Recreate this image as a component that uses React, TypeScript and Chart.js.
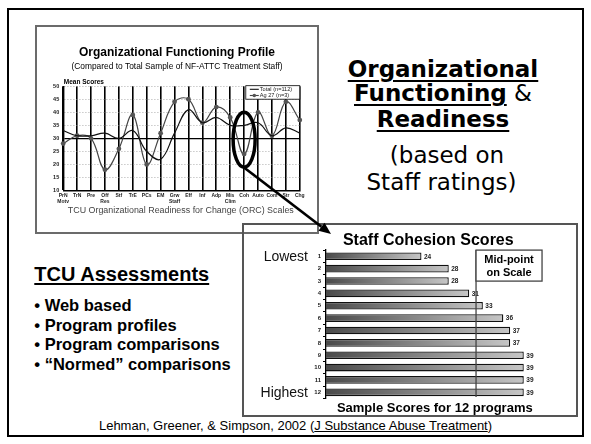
import React, { useEffect, useRef } from "react";
import { Chart, registerables } from "chart.js";

Chart.register(...registerables);

// ---------- Data: Organizational Functioning Profile ----------
const SCALE_LABELS: string[][] = [
  ["PrN", "Motv"], ["TrN"], ["Pre"], ["Off", "Res"], ["Stf"], ["TrE"], ["PCs"], ["EM"],
  ["Grw", "Staff"], ["Eff"], ["Inf"], ["Adp"], ["Mis", "Clim"], ["Coh"], ["Auto"], ["Com"], ["Str"], ["Chg"],
];
const TOTAL_LABEL = "Total (n=112)";
const TOTAL_SCORES = [33, 31, 31, 32, 30, 33, 25, 22, 32, 41, 36, 38, 35, 35, 36, 31, 34, 32];
const AG27_LABEL = "Ag 27 (n=3)";
const AG27_SCORES = [28, 31, 30, 18, 26, 39, 20, 32, 44, 45, 36, 42, 38, 24, 40, 31, 44, 37];
const PROFILE_MIN = 10;
const PROFILE_MAX = 50;
const PROFILE_STEP = 5;
const PROFILE_MIDPOINT = 30;
const HIGHLIGHT_SCALE = "Coh";

// ---------- Data: Staff Cohesion Scores ----------
const PROGRAM_LABELS = ["1", "2", "3", "4", "5", "6", "7", "8", "9", "10", "11", "12"];
const COHESION_SCORES = [24, 28, 28, 31, 33, 36, 37, 37, 39, 39, 39, 39];
const COHESION_MIN = 10;
const COHESION_MAX = 40;
const COHESION_MIDPOINT_LINE = 32;

const SANS = "'Liberation Sans', Arial, Helvetica, sans-serif";
const DEJAVU = "'DejaVu Sans', Verdana, sans-serif";

function zeroPad(scale: any) {
  scale.paddingLeft = 0;
  scale.paddingRight = 0;
  scale.paddingTop = 0;
  scale.paddingBottom = 0;
}

const profileDecor = {
  id: "profileDecor",
  afterDatasetsDraw(chart: any) {
    const { ctx, chartArea: a, scales } = chart;
    const x = scales.x;
    const y = scales.y;
    ctx.save();
    const idx = SCALE_LABELS.findIndex((l) => l[0] === HIGHLIGHT_SCALE);
    if (idx >= 0) {
      const cx = x.getPixelForValue(idx);
      const cy = y.getPixelForValue((TOTAL_SCORES[idx] + AG27_SCORES[idx]) / 2);
      ctx.beginPath();
      ctx.ellipse(cx, cy, 11, 27.5, 0, 0, Math.PI * 2);
      ctx.lineWidth = 3.5;
      ctx.strokeStyle = "#000";
      ctx.stroke();
    }
    const lw = 54, lh = 13.5;
    const lx = a.right - lw, ly = a.top - 0.5;
    ctx.fillStyle = "#fff";
    ctx.fillRect(lx, ly, lw, lh);
    ctx.lineWidth = 0.8;
    ctx.strokeStyle = "#000";
    ctx.strokeRect(lx, ly, lw, lh);
    const ds = chart.data.datasets;
    ctx.font = `5.6px ${SANS}`;
    ctx.textBaseline = "middle";
    ctx.textAlign = "left";
    ds.forEach((d: any, i: number) => {
      const ry = ly + 3.6 + i * 6.2;
      ctx.beginPath();
      ctx.moveTo(lx + 4, ry);
      ctx.lineTo(lx + 13, ry);
      ctx.strokeStyle = d.borderColor;
      ctx.lineWidth = 1.1;
      ctx.stroke();
      if (d.pointRadius > 0) {
        ctx.beginPath();
        ctx.arc(lx + 8.5, ry, 1.8, 0, Math.PI * 2);
        ctx.fillStyle = d.pointBackgroundColor;
        ctx.fill();
      }
      ctx.fillStyle = "#222";
      ctx.fillText(d.label, lx + 14, ry + 0.3);
    });
    ctx.restore();
  },
  afterDraw(chart: any) {
    const { ctx, chartArea: a } = chart;
    ctx.save();
    ctx.fillStyle = "#000";
    ctx.textAlign = "center";
    ctx.textBaseline = "alphabetic";
    ctx.font = `bold 12px ${SANS}`;
    ctx.fillText("Organizational Functioning Profile", chart.width / 2, 31);
    ctx.font = `8.4px ${SANS}`;
    ctx.fillText("(Compared to Total Sample of NF-ATTC Treatment Staff)", chart.width / 2, 43.8);
    ctx.textAlign = "left";
    ctx.font = `bold 6.5px ${SANS}`;
    ctx.fillText("Mean Scores", a.left + 0.6, a.top - 2.4);
    ctx.textAlign = "center";
    ctx.fillStyle = "#444";
    ctx.font = `8.9px ${SANS}`;
    ctx.fillText("TCU Organizational Readiness for Change (ORC) Scales", (a.left + a.right) / 2 - 0.7, 188.2);
    ctx.restore();
  },
};

const cohesionDecor = {
  id: "cohesionDecor",
  afterDatasetsDraw(chart: any) {
    const { ctx, chartArea: a, scales } = chart;
    const x = scales.x;
    const y = scales.y;
    ctx.save();
    ctx.font = `bold 6.5px ${SANS}`;
    ctx.fillStyle = "#222";
    ctx.textAlign = "left";
    ctx.textBaseline = "middle";
    COHESION_SCORES.forEach((v, i) => {
      ctx.fillText(String(v), x.getPixelForValue(v) + 2.5, y.getPixelForValue(i) + 0.5);
    });
    const mx = x.getPixelForValue(COHESION_MIDPOINT_LINE);
    ctx.strokeStyle = "#444";
    ctx.lineWidth = 1.3;
    ctx.beginPath();
    ctx.moveTo(mx, a.top);
    ctx.lineTo(mx, a.bottom - 1.5);
    ctx.stroke();
    ctx.fillStyle = "#fff";
    ctx.fillRect(mx, a.top, 66, 31);
    ctx.strokeRect(mx, a.top, 66, 31);
    ctx.fillStyle = "#000";
    ctx.font = `bold 11px ${SANS}`;
    ctx.textAlign = "center";
    ctx.textBaseline = "alphabetic";
    ctx.fillText("Mid-point", mx + 33, a.top + 12.4);
    ctx.fillText("on Scale", mx + 33, a.top + 25.4);
    ctx.font = `14px ${SANS}`;
    ctx.textAlign = "right";
    ctx.textBaseline = "middle";
    ctx.fillStyle = "#111";
    ctx.fillText("Lowest", a.left - 18, y.getPixelForValue(0) + 0.5);
    ctx.fillText("Highest", a.left - 18, y.getPixelForValue(PROGRAM_LABELS.length - 1) + 0.5);
    ctx.fillStyle = "#000";
    ctx.font = `bold 13px ${SANS}`;
    ctx.textAlign = "center";
    ctx.textBaseline = "alphabetic";
    ctx.fillText("Sample Scores for 12 programs", (a.left + a.right) / 2 + 6.5, a.bottom + 13.2);
    ctx.restore();
  },
};

const ARROW_FROM = [242, 166];
const ARROW_TIP = [331, 234];

function arrowHead() {
  const dx = ARROW_TIP[0] - ARROW_FROM[0];
  const dy = ARROW_TIP[1] - ARROW_FROM[1];
  const len = Math.hypot(dx, dy);
  const ux = dx / len, uy = dy / len;
  const hl = 12, hw = 5;
  const bx = ARROW_TIP[0] - ux * hl, by = ARROW_TIP[1] - uy * hl;
  const px = -uy * hw, py = ux * hw;
  return {
    base: [bx, by],
    points: `${ARROW_TIP[0]},${ARROW_TIP[1]} ${bx + px},${by + py} ${bx - px},${by - py}`,
  };
}

export default function App() {
  const lineRef = useRef<HTMLCanvasElement>(null);
  const barRef = useRef<HTMLCanvasElement>(null);

  useEffect(() => {
    document.body.style.margin = "0";
    Chart.defaults.font.family = SANS;

    const lineChart = new Chart(lineRef.current!, {
      type: "line",
      data: {
        labels: SCALE_LABELS,
        datasets: [
          {
            label: TOTAL_LABEL,
            data: TOTAL_SCORES,
            borderColor: "#111",
            borderWidth: 1.2,
            pointRadius: 0,
            pointBackgroundColor: "#111",
            tension: 0.4,
            fill: false,
          },
          {
            label: AG27_LABEL,
            data: AG27_SCORES,
            borderColor: "#444",
            borderWidth: 1.2,
            pointRadius: 2.4,
            pointBackgroundColor: "#555",
            pointBorderColor: "#555",
            pointBorderWidth: 0,
            tension: 0.4,
            fill: false,
          },
        ],
      },
      options: {
        responsive: false,
        animation: false,
        layout: { padding: { top: 61.2, right: 19.2, left: 0, bottom: 0 } },
        plugins: { legend: { display: false }, tooltip: { enabled: false }, title: { display: false } },
        scales: {
          x: {
            type: "category",
            offset: false,
            grid: { color: "#000", lineWidth: 1.6, drawTicks: false },
            border: { display: true, color: "#000", width: 1.4 },
            ticks: {
              font: { size: 5, weight: "bold" },
              color: "#222",
              maxRotation: 0,
              minRotation: 0,
              autoSkip: false,
              padding: 2.5,
            },
            afterFit: (s: any) => {
              s.height = 43.5;
              zeroPad(s);
            },
          },
          y: {
            min: PROFILE_MIN,
            max: PROFILE_MAX,
            ticks: { stepSize: PROFILE_STEP, font: { size: 5.5, weight: "bold" }, color: "#222", padding: 4 },
            grid: {
              drawTicks: false,
              color: (c: any) =>
                c.tick && (c.tick.value === PROFILE_MIDPOINT || c.tick.value === PROFILE_MIN) ? "#000" : "#999",
              lineWidth: (c: any) => (c.tick && c.tick.value === PROFILE_MIDPOINT ? 1.3 : 0.8),
            },
            border: {
              display: true,
              color: "#000",
              width: 1.4,
              dash: (c: any) => (c.tick && c.tick.value !== PROFILE_MIDPOINT && c.tick.value !== PROFILE_MIN ? [1, 2] : []),
            },
            afterFit: (s: any) => {
              s.width = 28.2;
              zeroPad(s);
            },
          },
        },
      } as any,
      plugins: [profileDecor],
    });

    const barChart = new Chart(barRef.current!, {
      type: "bar",
      data: {
        labels: PROGRAM_LABELS,
        datasets: [
          {
            label: "Staff Cohesion",
            data: COHESION_SCORES,
            backgroundColor: (c: any) => {
              const chart = c.chart;
              const area = chart.chartArea;
              if (!area || c.raw === undefined || !chart.scales.x) return "#888";
              const x1 = chart.scales.x.getPixelForValue(c.raw);
              const g = chart.ctx.createLinearGradient(area.left, 0, Math.max(x1, area.left + 1), 0);
              g.addColorStop(0, "#4a4a4a");
              g.addColorStop(1, "#c6c6c6");
              return g;
            },
            borderColor: "#111",
            borderWidth: 1.3,
            borderSkipped: false,
            categoryPercentage: 1,
            barPercentage: 0.62,
          },
        ],
      },
      options: {
        indexAxis: "y",
        responsive: false,
        animation: false,
        layout: { padding: { top: 4, right: 47.4, left: 0, bottom: 18.5 } },
        plugins: {
          legend: { display: false },
          tooltip: { enabled: false },
          title: {
            display: true,
            text: "Staff Cohesion Scores",
            fullSize: false,
            color: "#000",
            font: { size: 16, weight: "bold" },
            padding: { top: 3.9, bottom: 0 },
          },
        },
        scales: {
          x: { display: false, min: COHESION_MIN, max: COHESION_MAX },
          y: {
            type: "category",
            grid: { drawOnChartArea: false, drawTicks: true, tickLength: 3, color: "#000", lineWidth: 1 },
            border: { display: true, color: "#000", width: 1.3 },
            ticks: { font: { size: 6, weight: "bold" }, color: "#222", padding: 2 },
            afterFit: (s: any) => {
              s.width = 84;
              zeroPad(s);
            },
          },
        },
      } as any,
      plugins: [cohesionDecor],
    });

    return () => {
      lineChart.destroy();
      barChart.destroy();
    };
  }, []);

  const head = arrowHead();
  const boldU: React.CSSProperties = {
    fontWeight: "bold",
    textDecoration: "underline",
    textDecorationThickness: "2px",
    textUnderlineOffset: "3px",
  };
  const rightLine = (top: number): React.CSSProperties => ({
    position: "absolute",
    left: 323,
    width: 240,
    top,
    textAlign: "center",
    fontFamily: DEJAVU,
    fontSize: 23,
    lineHeight: "23px",
    color: "#000",
    whiteSpace: "nowrap",
  });

  return (
    <div style={{ position: "absolute", left: 0, top: 0, width: 591, height: 444, background: "#fff", overflow: "hidden" }}>
      <div style={{ position: "absolute", left: 7, top: 7.5, width: 577, height: 429.5, border: "2.5px solid #000", boxSizing: "border-box" }} />
      <div style={{ position: "absolute", left: 34.5, top: 24.5, width: 284, height: 209, border: "2px solid #6b6b6b", boxSizing: "border-box" }} />
      <div style={{ position: "absolute", left: 242, top: 223, width: 336, height: 194, border: "2px solid #555", boxSizing: "border-box" }} />

      <canvas ref={lineRef} width={284} height={209} style={{ position: "absolute", left: 34.5, top: 24.5, width: 284, height: 209 }} />
      <canvas ref={barRef} width={336} height={194} style={{ position: "absolute", left: 242, top: 223, width: 336, height: 194 }} />

      <div style={rightLine(57.8)}><span style={boldU}>Organizational</span></div>
      <div style={rightLine(82.2)}><span style={boldU}>Functioning</span> &amp;</div>
      <div style={rightLine(107.8)}><span style={boldU}>Readiness</span></div>
      <div style={{ ...rightLine(143.5), left: 327 }}>(based on</div>
      <div style={{ ...rightLine(171.2), left: 321.5 }}>Staff ratings)</div>

      <div
        style={{
          position: "absolute",
          left: 34.3,
          top: 263.8,
          fontFamily: SANS,
          fontSize: 20,
          lineHeight: "20px",
          fontWeight: "bold",
          textDecoration: "underline",
          textDecorationThickness: "2px",
          textUnderlineOffset: "2px",
          whiteSpace: "nowrap",
        }}
      >
        TCU Assessments
      </div>
      <div
        style={{
          position: "absolute",
          left: 34.3,
          top: 296.3,
          fontFamily: SANS,
          fontSize: 16.5,
          lineHeight: "19.4px",
          fontWeight: "bold",
          whiteSpace: "nowrap",
        }}
      >
        <div>• Web based</div>
        <div>• Program profiles</div>
        <div>• Program comparisons</div>
        <div>• “Normed” comparisons</div>
      </div>

      <div
        style={{
          position: "absolute",
          left: 0,
          width: 591,
          top: 418.5,
          textAlign: "center",
          fontFamily: SANS,
          fontSize: 13,
          lineHeight: "13px",
          whiteSpace: "nowrap",
        }}
      >
        Lehman, Greener, &amp; Simpson, 2002 (<span style={{ textDecoration: "underline" }}>J Substance Abuse Treatment</span>)
      </div>

      <svg width={591} height={444} style={{ position: "absolute", left: 0, top: 0, pointerEvents: "none" }}>
        <line x1={ARROW_FROM[0]} y1={ARROW_FROM[1]} x2={head.base[0]} y2={head.base[1]} stroke="#000" strokeWidth={2.6} />
        <polygon points={head.points} fill="#000" />
      </svg>
    </div>
  );
}
